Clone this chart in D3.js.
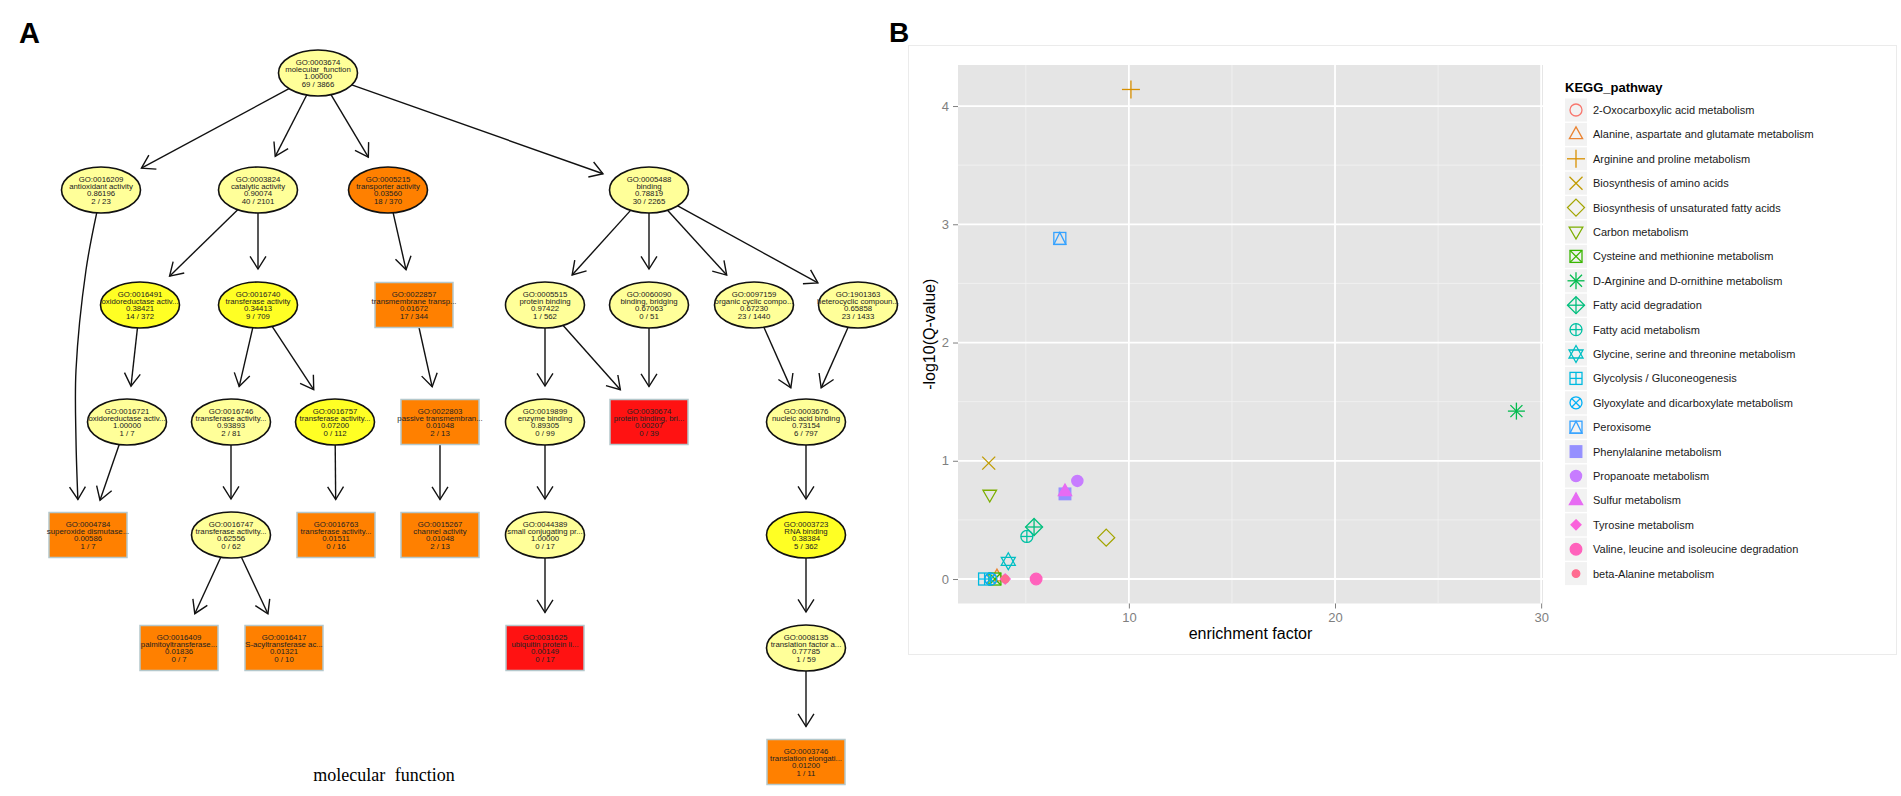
<!DOCTYPE html>
<html>
<head>
<meta charset="utf-8">
<script src="https://cdn.jsdelivr.net/npm/d3@7"></script>
<style>
  body { margin: 0; background: #fff; }
  svg { display: block; font-family: 'Liberation Sans', Arial, sans-serif; }
</style>
</head>
<body>
<svg id="fig" width="1901" height="796"></svg>
<script>
/*---------------------------- panel A: GO graph ----------------------------*/

const goIds = [
  'GO:0003674', 'GO:0016209', 'GO:0003824', 'GO:0005215', 'GO:0005488',
  'GO:0016491', 'GO:0016740', 'GO:0022857', 'GO:0005515', 'GO:0060090',
  'GO:0097159', 'GO:1901363', 'GO:0016721', 'GO:0016746', 'GO:0016757',
  'GO:0022803', 'GO:0019899', 'GO:0030674', 'GO:0003676', 'GO:0004784',
  'GO:0016747', 'GO:0016763', 'GO:0015267', 'GO:0044389', 'GO:0003723',
  'GO:0016409', 'GO:0016417', 'GO:0031625', 'GO:0008135', 'GO:0003746',
]
const goTerms = [
  'molecular_function', 'antioxidant activity', 'catalytic activity', 'transporter activity', 'binding',
  'oxidoreductase activ...', 'transferase activity', 'transmembrane transp...', 'protein binding', 'binding, bridging',
  'organic cyclic compo...', 'heterocyclic compoun...', 'oxidoreductase activ...', 'transferase activity...', 'transferase activity...',
  'passive transmembran...', 'enzyme binding', 'protein binding, bri...', 'nucleic acid binding', 'superoxide dismutase...',
  'transferase activity...', 'transferase activity...', 'channel activity', 'small conjugating pr...', 'RNA binding',
  'palmitoyltransferase...', 'S-acyltransferase ac...', 'ubiquitin protein li...', 'translation factor a...', 'translation elongati...',
]
const goPvals = [
  1.00000, 0.86196, 0.90074, 0.03560, 0.78819,
  0.38421, 0.34413, 0.01672, 0.97422, 0.67063,
  0.67230, 0.65858, 1.00000, 0.93893, 0.07200,
  0.01048, 0.89305, 0.00207, 0.73154, 0.00586,
  0.62556, 0.01511, 0.01048, 1.00000, 0.38384,
  0.01836, 0.01321, 0.00149, 0.77785, 0.01200,
]
const goSig = [69, 2, 40, 18, 30, 14, 9, 17, 1, 0, 23, 23, 1, 2, 0, 2, 0, 0, 6, 1, 0, 0, 2, 0, 5, 0, 0, 0, 1, 1]
const goAnnot = [3866, 23, 2101, 370, 2265, 372, 709, 344, 562, 51, 1440, 1433, 7, 81, 112, 13, 99, 39, 797, 7, 62, 16, 13, 17, 362, 7, 10, 17, 59, 11]

// nodes drawn as boxes (first significant nodes)
const sigNodes = [
  'GO:0022857', 'GO:0022803', 'GO:0030674', 'GO:0004784', 'GO:0016763',
  'GO:0015267', 'GO:0016409', 'GO:0016417', 'GO:0031625', 'GO:0003746',
]

const goEdges = [
  ['GO:0003674', 'GO:0016209'], ['GO:0003674', 'GO:0003824'], ['GO:0003674', 'GO:0005215'], ['GO:0003674', 'GO:0005488'],
  ['GO:0016209', 'GO:0004784'], ['GO:0003824', 'GO:0016491'], ['GO:0003824', 'GO:0016740'], ['GO:0005215', 'GO:0022857'],
  ['GO:0005488', 'GO:0005515'], ['GO:0005488', 'GO:0060090'], ['GO:0005488', 'GO:0097159'], ['GO:0005488', 'GO:1901363'],
  ['GO:0016491', 'GO:0016721'], ['GO:0016740', 'GO:0016746'], ['GO:0016740', 'GO:0016757'], ['GO:0022857', 'GO:0022803'],
  ['GO:0005515', 'GO:0019899'], ['GO:0005515', 'GO:0030674'], ['GO:0060090', 'GO:0030674'], ['GO:0097159', 'GO:0003676'],
  ['GO:1901363', 'GO:0003676'], ['GO:0016721', 'GO:0004784'], ['GO:0016746', 'GO:0016747'], ['GO:0016757', 'GO:0016763'],
  ['GO:0022803', 'GO:0015267'], ['GO:0019899', 'GO:0044389'], ['GO:0003676', 'GO:0003723'], ['GO:0016747', 'GO:0016409'],
  ['GO:0016747', 'GO:0016417'], ['GO:0044389', 'GO:0031625'], ['GO:0003723', 'GO:0008135'], ['GO:0008135', 'GO:0003746'],
]

/*---------------------------- panel B: KEGG scatter ------------------------*/

const pathways = [
  '2-Oxocarboxylic acid metabolism', 'Alanine, aspartate and glutamate metabolism', 'Arginine and proline metabolism',
  'Biosynthesis of amino acids', 'Biosynthesis of unsaturated fatty acids', 'Carbon metabolism',
  'Cysteine and methionine metabolism', 'D-Arginine and D-ornithine metabolism', 'Fatty acid degradation',
  'Fatty acid metabolism', 'Glycine, serine and threonine metabolism', 'Glycolysis / Gluconeogenesis',
  'Glyoxylate and dicarboxylate metabolism', 'Peroxisome', 'Phenylalanine metabolism', 'Propanoate metabolism',
  'Sulfur metabolism', 'Tyrosine metabolism', 'Valine, leucine and isoleucine degradation', 'beta-Alanine metabolism',
]
const enrichFactor = [3.3, 3.6, 10.1, 3.2, 8.9, 3.25, 3.5, 28.8, 5.4, 5.05, 4.15, 3.0, 3.3, 6.65, 6.9, 7.5, 6.9, 4.0, 5.5, 4.0]
const negLogQ = [0.0, 0.02, 4.14, 0.98, 0.35, 0.71, 0.0, 1.42, 0.44, 0.36, 0.15, 0.0, 0.0, 2.88, 0.72, 0.83, 0.74, 0.0, 0.0, 0.0]
const xTicks = [10, 20, 30]
const xMinor = [5, 15, 25]
const yTicks = [0, 1, 2, 3, 4]
const yMinor = [0.5, 1.5, 2.5, 3.5]

/*---------------------------- layout / style -------------------------------*/

const treeRowY = [73, 190, 305, 422, 535, 648, 762]
const treeX = [318, 101, 258, 388, 649, 140, 258, 414, 545, 649, 754, 858, 127, 231, 335,
  440, 545, 649, 806, 88, 231, 336, 440, 545, 806, 179, 284, 545, 806, 806]
const treeRow = [0, 1, 1, 1, 1, 2, 2, 2, 2, 2, 2, 2, 3, 3, 3, 3, 3, 3, 3, 4, 4, 4, 4, 4, 4, 5, 5, 5, 5, 6]
// bent edge route, and end offset on the child
const edgeRoutes = {
  'GO:0016209>GO:0004784': { via: [[86, 270], [76, 370], [76, 440]], end: [-9, 0] },
}
const node = { rx: 39.5, ry: 23, w: 78, h: 45 }
const arrowGap = 13
const hueColors = ['#F8766D', '#EA8331', '#D89000', '#C09B00', '#A3A500', '#7CAE00', '#39B600', '#00BB4E', '#00BF7D', '#00C1A3',
  '#00BFC4', '#00BAE0', '#00B0F6', '#35A2FF', '#9590FF', '#C77CFF', '#E76BF3', '#FA62DB', '#FF62BC', '#FF6C91']

const svg = d3.select('#fig')

/*---------------------------------------------------------------------------*/

const pColor = d3.scaleThreshold()
  .domain([0.005, 0.05, 0.5])
  .range(['#ff1212', '#ff8000', '#ffff24', '#ffff99'])

const sigSet = new Set(sigNodes)
const nodes = goIds.map((id, i) => ({
  id,
  lines: [id, goTerms[i], d3.format('.5f')(goPvals[i]), `${goSig[i]} / ${goAnnot[i]}`],
  p: goPvals[i],
  box: sigSet.has(id),
  x: treeX[i],
  y: treeRowY[treeRow[i]],
}))
const byId = new Map(nodes.map(n => [n.id, n]))

// factor along (dx, dy) from a node centre to its border
const borderT = (n, dx, dy) => {
  if (n.box) return Math.min(node.w / 2 / Math.abs(dx || 1e-9), node.h / 2 / Math.abs(dy || 1e-9))
  return 1 / Math.sqrt((dx / node.rx) ** 2 + (dy / node.ry) ** 2)
}

const gA = svg.append('g')
const edgeLine = d3.line().curve(d3.curveCatmullRom.alpha(0.5))

goEdges.forEach(([from, to]) => {
  const a = byId.get(from)
  const b = byId.get(to)
  const route = edgeRoutes[`${from}>${to}`] || { via: [], end: [0, 0] }
  const first = route.via.length ? route.via[0] : [b.x, b.y]
  const last = route.via.length ? route.via[route.via.length - 1] : [a.x, a.y]
  const bx = b.x + route.end[0]
  const by = b.y + route.end[1]

  let dx = first[0] - a.x
  let dy = first[1] - a.y
  let t = borderT(a, dx, dy)
  const start = [a.x + dx * t, a.y + dy * t]

  dx = bx - last[0]
  dy = by - last[1]
  const len = Math.hypot(dx, dy)
  t = borderT(b, dx, dy)
  const ux = dx / len
  const uy = dy / len
  const back = len * t + arrowGap
  const tip = [bx - ux * back, by - uy * back]

  gA.append('path')
    .attr('d', edgeLine([start, ...route.via, tip]))
    .attr('fill', 'none')
    .attr('stroke', '#111')
    .attr('stroke-width', 1.4)

  const ang = 32 * Math.PI / 180
  const arm = 15
  const head = [-ang, ang].map(s => [
    tip[0] - arm * (ux * Math.cos(s) - uy * Math.sin(s)),
    tip[1] - arm * (ux * Math.sin(s) + uy * Math.cos(s)),
  ])
  gA.append('path')
    .attr('d', `M${head[0]}L${tip}L${head[1]}`)
    .attr('fill', 'none')
    .attr('stroke', '#111')
    .attr('stroke-width', 1.4)
})

const gNode = gA.selectAll('.go-node')
  .data(nodes)
  .enter()
  .append('g')
  .attr('class', 'go-node')
  .attr('transform', d => `translate(${d.x},${d.y})`)

gNode.filter(d => !d.box).append('ellipse')
  .attr('rx', node.rx)
  .attr('ry', node.ry)
  .attr('fill', d => pColor(d.p))
  .attr('stroke', '#111')
  .attr('stroke-width', 1.6)

gNode.filter(d => d.box).append('rect')
  .attr('x', -node.w / 2)
  .attr('y', -node.h / 2)
  .attr('width', node.w)
  .attr('height', node.h)
  .attr('fill', d => pColor(d.p))
  .attr('stroke', '#b4c8cc')
  .attr('stroke-width', 1.5)

gNode.selectAll('text')
  .data(d => d.lines)
  .enter()
  .append('text')
  .attr('text-anchor', 'middle')
  .attr('y', (d, i) => (i - 1.5) * 7.2 + 2.8)
  .attr('font-size', 7.8)
  .attr('fill', '#222')
  .text(d => d)

gA.append('text')
  .attr('x', 384)
  .attr('y', 781)
  .attr('text-anchor', 'middle')
  .attr('font-family', "'Liberation Serif', 'Times New Roman', serif")
  .attr('font-size', 18)
  .attr('word-spacing', 5)
  .text('molecular function')

svg.append('text')
  .attr('x', 19)
  .attr('y', 43)
  .attr('font-size', 29)
  .attr('font-weight', 'bold')
  .text('A')

/*---------------------------------------------------------------------------*/

svg.append('text')
  .attr('x', 889)
  .attr('y', 42)
  .attr('font-size', 28)
  .attr('font-weight', 'bold')
  .text('B')

svg.append('rect')
  .attr('x', 908.5)
  .attr('y', 45.5)
  .attr('width', 988)
  .attr('height', 609)
  .attr('fill', '#fff')
  .attr('stroke', '#ebebeb')

const expand = ([a, b]) => { const d = (b - a) * 0.05; return [a - d, b + d] }
const plot = { left: 958, right: 1543, top: 65, bottom: 603.5 }
const x = d3.scaleLinear().domain(expand(d3.extent(enrichFactor))).range([plot.left, plot.right])
const y = d3.scaleLinear().domain(expand(d3.extent(negLogQ))).range([plot.bottom, plot.top])

const gB = svg.append('g')
gB.append('rect')
  .attr('x', plot.left)
  .attr('y', plot.top)
  .attr('width', plot.right - plot.left)
  .attr('height', plot.bottom - plot.top)
  .attr('fill', '#e5e5e5')

const grid = (vals, scale, vertical, color, width) => {
  gB.selectAll(null)
    .data(vals)
    .enter()
    .append('line')
    .attr('x1', d => vertical ? scale(d) : plot.left)
    .attr('x2', d => vertical ? scale(d) : plot.right)
    .attr('y1', d => vertical ? plot.top : scale(d))
    .attr('y2', d => vertical ? plot.bottom : scale(d))
    .attr('stroke', color)
    .attr('stroke-width', width)
}
grid(xMinor, x, true, '#f2f2f2', 0.8)
grid(yMinor, y, false, '#f2f2f2', 0.8)
grid(xTicks, x, true, '#fff', 1.8)
grid(yTicks, y, false, '#fff', 1.8)

const styleAxis = g => {
  g.select('.domain').remove()
  g.selectAll('.tick line').attr('stroke', '#7f7f7f')
  g.selectAll('.tick text').attr('fill', '#7f7f7f').attr('font-size', 13)
    .attr('font-family', "'Liberation Sans', Arial, sans-serif")
}
gB.append('g')
  .attr('transform', `translate(${plot.left},0)`)
  .call(d3.axisLeft(y).tickValues(yTicks).tickSize(5).tickPadding(4).tickFormat(d3.format('d')))
  .call(styleAxis)
gB.append('g')
  .attr('transform', `translate(0,${plot.bottom})`)
  .call(d3.axisBottom(x).tickValues(xTicks).tickSize(5).tickPadding(4).tickFormat(d3.format('d')))
  .call(styleAxis)

gB.append('text')
  .attr('transform', `translate(929,${(plot.top + plot.bottom) / 2}) rotate(-90)`)
  .attr('text-anchor', 'middle')
  .attr('dy', '0.35em')
  .attr('font-size', 16)
  .text('-log10(Q-value)')
gB.append('text')
  .attr('x', (plot.left + plot.right) / 2)
  .attr('y', 639)
  .attr('text-anchor', 'middle')
  .attr('font-size', 16)
  .text('enrichment factor')

// ggplot point shapes 1..20
const drawShape = (g, shape, color) => {
  const sw = 1.3
  const ln = (x1, y1, x2, y2) => g.append('line')
    .attr('x1', x1).attr('y1', y1).attr('x2', x2).attr('y2', y2)
    .attr('stroke', color).attr('stroke-width', sw)
  const poly = (pts, fill) => g.append('polygon')
    .attr('points', pts.map(p => p.join(',')).join(' '))
    .attr('fill', fill || 'none').attr('stroke', color).attr('stroke-width', sw)
  const circ = (r, fill) => g.append('circle')
    .attr('r', r).attr('fill', fill || 'none').attr('stroke', color).attr('stroke-width', sw)
  const sq = (s, fill) => g.append('rect')
    .attr('x', -s).attr('y', -s).attr('width', 2 * s).attr('height', 2 * s)
    .attr('fill', fill || 'none').attr('stroke', color).attr('stroke-width', sw)
  const up = [[0, -7.5], [6.6, 4.2], [-6.6, 4.2]]
  const diamond = s => [[0, -s], [s, 0], [0, s], [-s, 0]]
  switch (shape) {
    case 1: circ(6); break
    case 2: poly(up); break
    case 3: ln(-9, 0, 9, 0); ln(0, -9, 0, 9); break
    case 4: ln(-6.5, -6.5, 6.5, 6.5); ln(-6.5, 6.5, 6.5, -6.5); break
    case 5: poly(diamond(8.5)); break
    case 6: poly([[-6.8, -4.8], [6.8, -4.8], [0, 7]]); break
    case 7: sq(6); ln(-6, -6, 6, 6); ln(-6, 6, 6, -6); break
    case 8: ln(-8.5, 0, 8.5, 0); ln(0, -8.5, 0, 8.5); ln(-6, -6, 6, 6); ln(-6, 6, 6, -6); break
    case 9: poly(diamond(8.5)); ln(-8.5, 0, 8.5, 0); ln(0, -8.5, 0, 8.5); break
    case 10: circ(6); ln(-6, 0, 6, 0); ln(0, -6, 0, 6); break
    case 11: poly([[0, -8.5], [7, 4], [-7, 4]]); poly([[0, 8.5], [7, -4], [-7, -4]]); break
    case 12: sq(6); ln(-6, 0, 6, 0); ln(0, -6, 0, 6); break
    case 13: circ(6); ln(-4.2, -4.2, 4.2, 4.2); ln(-4.2, 4.2, 4.2, -4.2); break
    case 14: sq(6); poly([[-6, 6], [0, -6], [6, 6]]); break
    case 15: sq(5.8, color); break
    case 16: circ(5.6, color); break
    case 17: poly(up, color); break
    case 18: poly(diamond(5), color); break
    case 19: circ(5.8, color); break
    case 20: circ(3.8, color); break
  }
}

pathways.forEach((p, i) => {
  const g = gB.append('g')
    .attr('transform', `translate(${x(enrichFactor[i])},${y(negLogQ[i])})`)
  drawShape(g, i + 1, hueColors[i])
})

// legend
const legend = { x: 1565, top: 110, step: 24.4 }
gB.append('text')
  .attr('x', legend.x)
  .attr('y', 92)
  .attr('font-size', 13)
  .attr('font-weight', 'bold')
  .text('KEGG_pathway')

const key = gB.selectAll('.key')
  .data(pathways)
  .enter()
  .append('g')
  .attr('class', 'key')
  .attr('transform', (d, i) => `translate(${legend.x + 11},${legend.top + i * legend.step})`)

key.append('rect')
  .attr('x', -11)
  .attr('y', -11.5)
  .attr('width', 22)
  .attr('height', 23)
  .attr('fill', '#f2f2f2')

key.each(function (d, i) { drawShape(d3.select(this), i + 1, hueColors[i]) })

key.append('text')
  .attr('x', 17)
  .attr('y', 4)
  .attr('font-size', 11)
  .attr('fill', '#1a1a1a')
  .text(d => d)
</script>
</body>
</html>
